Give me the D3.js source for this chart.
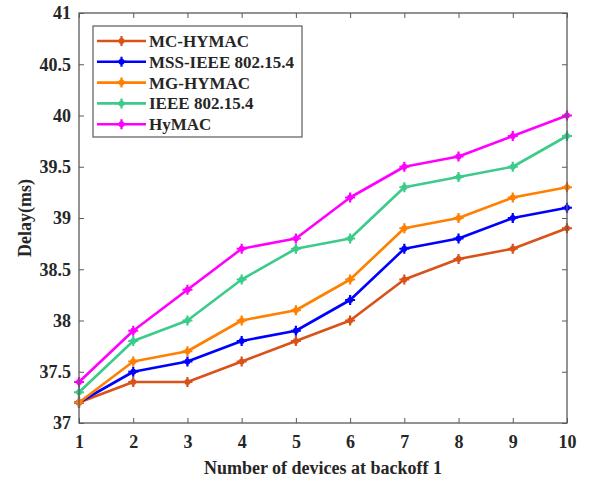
<!DOCTYPE html>
<html>
<head>
<meta charset="utf-8">
<script src="https://cdn.jsdelivr.net/npm/d3@7"></script>
<style>
  html, body { margin: 0; padding: 0; background: #fff; }
  svg { display: block; }
  text { font-family: "Liberation Serif", "Times New Roman", serif; font-weight: bold; fill: #262626; }
</style>
</head>
<body>
<svg id="chart" width="615" height="479"></svg>
<script>
// Number of devices at backoff 1
const devices = [1, 2, 3, 4, 5, 6, 7, 8, 9, 10];

// Delay (ms) for each scheme
const mcHymac   = [37.2, 37.4, 37.4, 37.6, 37.8, 38.0, 38.4, 38.6, 38.7, 38.9];
const mssIeee   = [37.2, 37.5, 37.6, 37.8, 37.9, 38.2, 38.7, 38.8, 39.0, 39.1];
const mgHymac   = [37.2, 37.6, 37.7, 38.0, 38.1, 38.4, 38.9, 39.0, 39.2, 39.3];
const ieee      = [37.3, 37.8, 38.0, 38.4, 38.7, 38.8, 39.3, 39.4, 39.5, 39.8];
const hymac     = [37.4, 37.9, 38.3, 38.7, 38.8, 39.2, 39.5, 39.6, 39.8, 40.0];

const seriesNames  = ["MC-HYMAC", "MSS-IEEE 802.15.4", "MG-HYMAC", "IEEE 802.15.4", "HyMAC"];
const seriesValues = [mcHymac, mssIeee, mgHymac, ieee, hymac];
const seriesColors = ["#D95319", "#0000FF", "#FF8000", "#3CCB8A", "#FF00FF"];

const yTicks = [37, 37.5, 38, 38.5, 39, 39.5, 40, 40.5, 41];

const svg = d3.select("#chart");
const margin = { left: 79, top: 13, right: 48, bottom: 56 };
const W = 615, H = 479;
const x = d3.scaleLinear().domain([1, 10]).range([margin.left, W - margin.right]);
const y = d3.scaleLinear().domain([37, 41]).range([H - margin.bottom, margin.top]);

const axisColor = "#5a5a5a";

// Series lines and markers
const line = d3.line().x((d, i) => x(devices[i])).y(d => y(d));
seriesValues.forEach((vals, k) => {
  const g = svg.append("g");
  g.append("path").datum(vals)
    .attr("d", line)
    .attr("fill", "none")
    .attr("stroke", seriesColors[k])
    .attr("stroke-width", 2.6)
    .attr("stroke-linejoin", "round");
  const m = g.selectAll("g.m").data(vals).join("g")
    .attr("transform", (d, i) => `translate(${x(devices[i])},${y(d)})`);
  m.append("circle").attr("r", 3).attr("fill", seriesColors[k]);
  m.append("path").attr("d", "M-5,0H5M0,-5V5")
    .attr("stroke", seriesColors[k]).attr("stroke-width", 2.2);
});

// Axes box
const x0 = x(1), x1 = x(10), y0 = y(37), y1 = y(41);
svg.append("rect").attr("x", x0).attr("y", y1)
  .attr("width", x1 - x0).attr("height", y0 - y1)
  .attr("fill", "none").attr("stroke", axisColor).attr("stroke-width", 1.3);

// Bottom and top ticks (inward)
const xAxis = d3.axisBottom(x).tickValues(devices).tickSize(-5).tickPadding(12).tickFormat(d3.format("d"));
const gx = svg.append("g").attr("transform", `translate(0,${y0})`).call(xAxis);
gx.select(".domain").remove();
gx.selectAll("line").attr("stroke", axisColor);
gx.selectAll("text").style("font-size", "18px").attr("fill", "#262626");

const gxt = svg.append("g").attr("transform", `translate(0,${y1})`)
  .call(d3.axisTop(x).tickValues(devices).tickSize(-5).tickFormat(""));
gxt.select(".domain").remove();
gxt.selectAll("line").attr("stroke", axisColor);

// Left and right ticks (inward)
const yAxis = d3.axisLeft(y).tickValues(yTicks).tickSize(-5).tickPadding(8).tickFormat(d => d);
const gy = svg.append("g").attr("transform", `translate(${x0},0)`).call(yAxis);
gy.select(".domain").remove();
gy.selectAll("line").attr("stroke", axisColor);
gy.selectAll("text").style("font-size", "18px").attr("fill", "#262626");

const gyr = svg.append("g").attr("transform", `translate(${x1},0)`)
  .call(d3.axisRight(y).tickValues(yTicks).tickSize(-5).tickFormat(""));
gyr.select(".domain").remove();
gyr.selectAll("line").attr("stroke", axisColor);

// Axis titles
svg.append("text").attr("x", (x0 + x1) / 2).attr("y", 474)
  .attr("text-anchor", "middle").style("font-size", "18px")
  .text("Number of devices at backoff 1");
svg.append("text").attr("transform", `translate(31,${(y0 + y1) / 2}) rotate(-90)`)
  .attr("text-anchor", "middle").style("font-size", "18px")
  .text("Delay(ms)");

// Legend
const lg = svg.append("g");
lg.append("rect").attr("x", 93).attr("y", 26).attr("width", 209).attr("height", 111)
  .attr("fill", "#fff").attr("stroke", axisColor).attr("stroke-width", 1.2);
seriesNames.forEach((name, k) => {
  const cy = 41 + k * 20.8;
  lg.append("line").attr("x1", 97).attr("x2", 146).attr("y1", cy).attr("y2", cy)
    .attr("stroke", seriesColors[k]).attr("stroke-width", 2.6);
  lg.append("circle").attr("cx", 121.5).attr("cy", cy).attr("r", 3).attr("fill", seriesColors[k]);
  lg.append("path").attr("d", `M116.5,${cy}H126.5M121.5,${cy - 5}V${cy + 5}`)
    .attr("stroke", seriesColors[k]).attr("stroke-width", 2.2);
  lg.append("text").attr("x", 149).attr("y", cy).attr("dy", "0.35em")
    .style("font-size", "17px").text(name);
});
</script>
</body>
</html>
